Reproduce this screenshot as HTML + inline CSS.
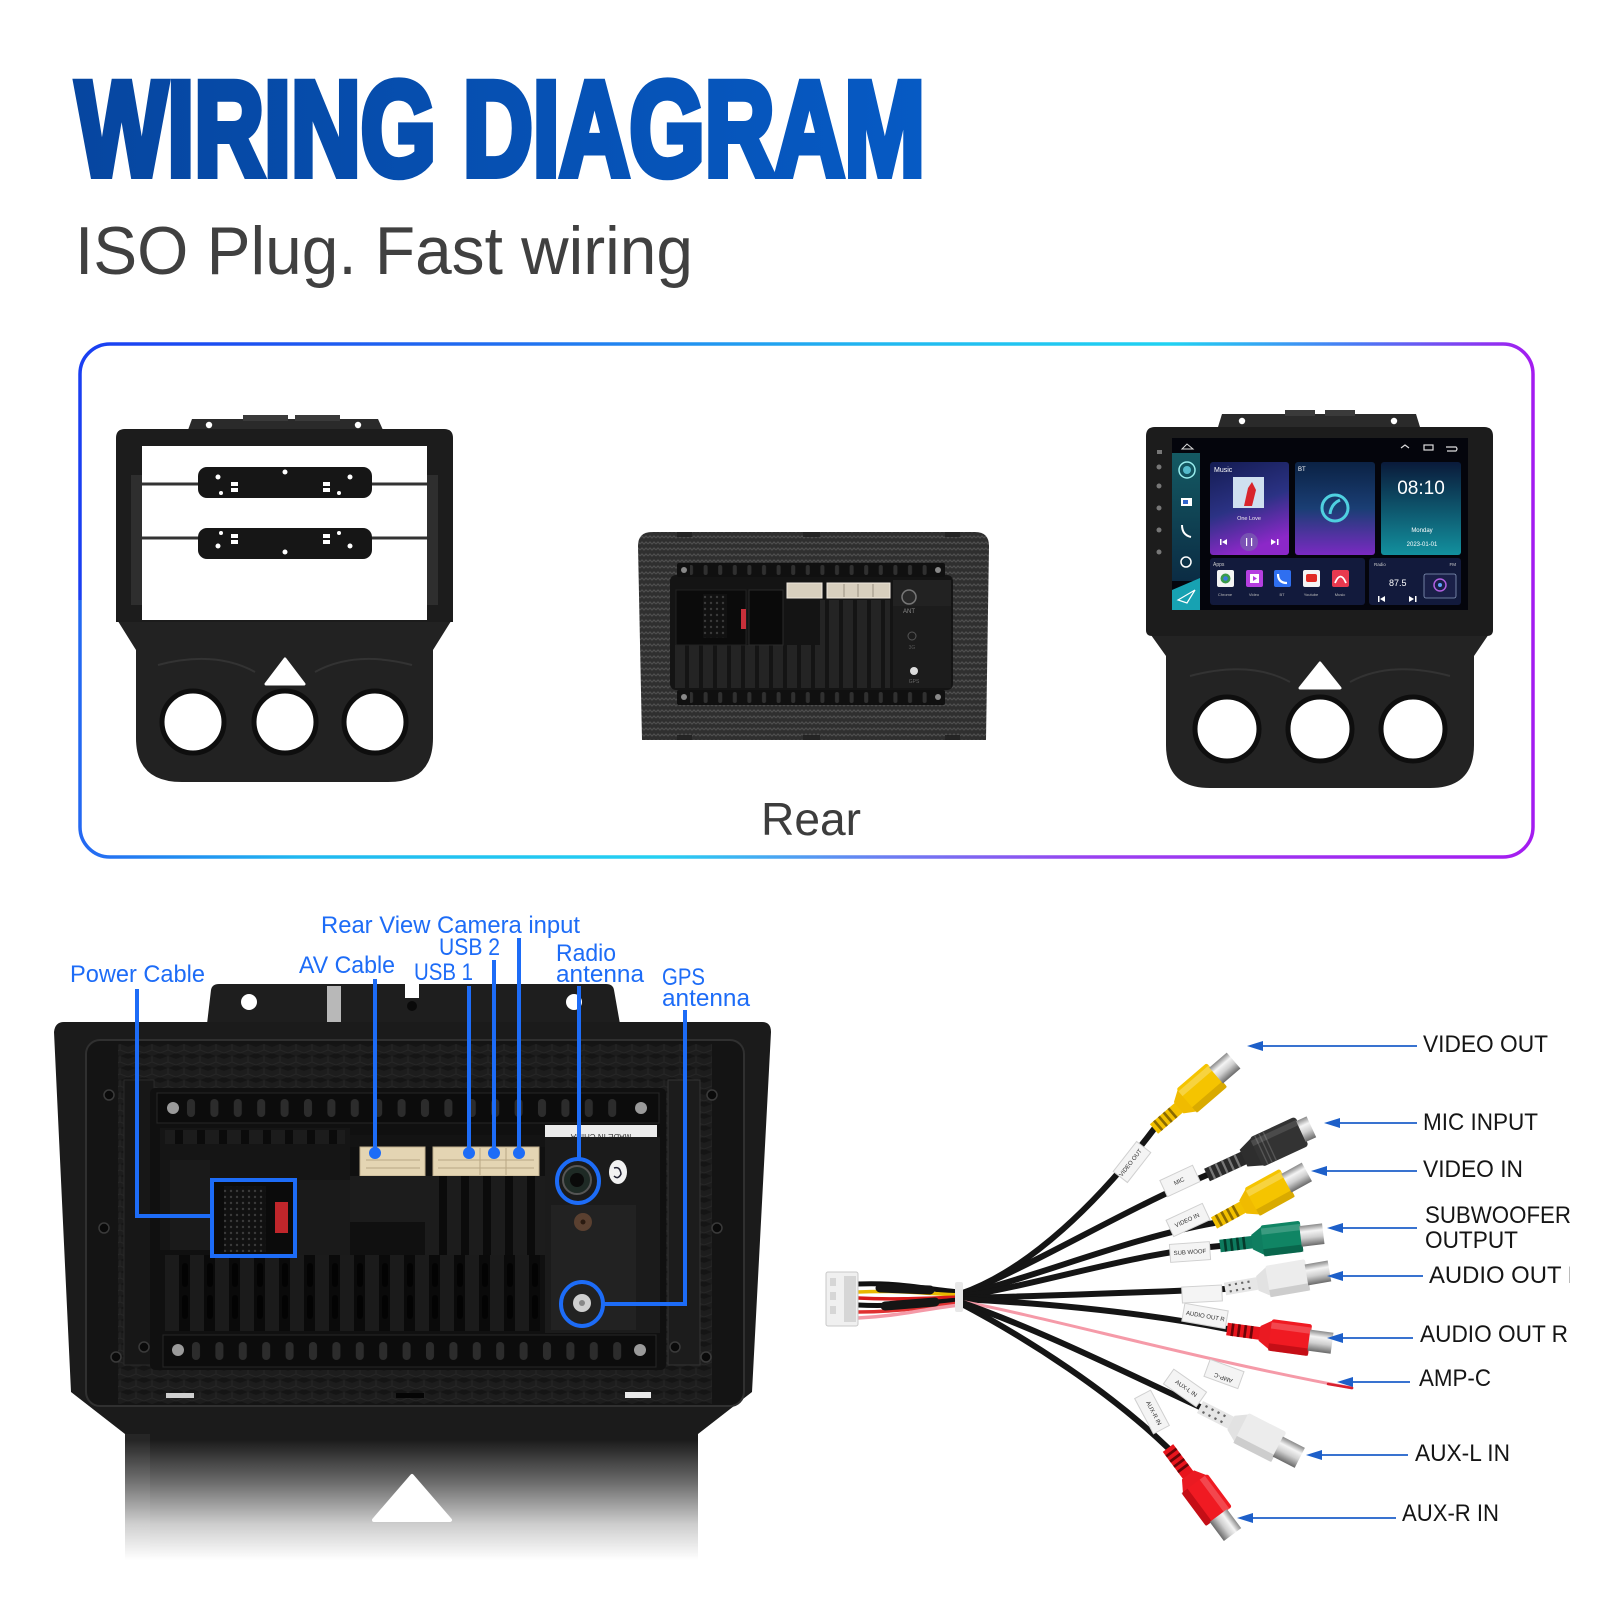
<!DOCTYPE html>
<html><head><meta charset="utf-8"><title>Wiring Diagram</title>
<style>
html,body{margin:0;padding:0;background:#fff;width:1600px;height:1600px;overflow:hidden}
svg{display:block}
</style></head><body>
<svg width="1600" height="1600" viewBox="0 0 1600 1600" xmlns="http://www.w3.org/2000/svg" font-family="'Liberation Sans', sans-serif">
<defs>
 <linearGradient id="titleG" x1="72" y1="0" x2="930" y2="0" gradientUnits="userSpaceOnUse">
  <stop offset="0" stop-color="#0646a0"/><stop offset="1" stop-color="#065ac4"/>
 </linearGradient>
 <linearGradient id="topG" x1="80" y1="0" x2="1533" y2="0" gradientUnits="userSpaceOnUse">
  <stop offset="0" stop-color="#1a3ff2"/><stop offset="0.3" stop-color="#2170f0"/><stop offset="0.55" stop-color="#22b8f0"/><stop offset="0.75" stop-color="#20d2f2"/><stop offset="0.88" stop-color="#4a78f4"/><stop offset="1" stop-color="#a41cf0"/>
 </linearGradient>
 <linearGradient id="botG" x1="80" y1="0" x2="1533" y2="0" gradientUnits="userSpaceOnUse">
  <stop offset="0" stop-color="#2468f2"/><stop offset="0.15" stop-color="#20b8f0"/><stop offset="0.4" stop-color="#24d0f2"/><stop offset="0.55" stop-color="#6a80f2"/><stop offset="0.7" stop-color="#9a40f0"/><stop offset="1" stop-color="#a41cf0"/>
 </linearGradient>
 <pattern id="cf" x="0" y="0" width="8" height="6" patternUnits="userSpaceOnUse">
  <rect width="8" height="6" fill="#2f2f2f"/>
  <path d="M0 4 L2 2 L4 4 L6 2 L8 4" stroke="#4e4e4e" stroke-width="1.2" fill="none"/>
 </pattern>
 <pattern id="cf2" x="0" y="0" width="16" height="12" patternUnits="userSpaceOnUse">
  <rect width="16" height="12" fill="#151515"/>
  <path d="M0 3 L8 0 L16 3 L16 9 L8 12 L0 9 Z" fill="#1d1d1d"/>
  <path d="M8 0 L8 6 L16 9 M8 6 L0 9" stroke="#262626" stroke-width="1" fill="none"/>
 </pattern>
 <pattern id="slotsS" x="684" y="563" width="14.6" height="14" patternUnits="userSpaceOnUse">
  <rect x="5" y="2" width="4" height="10" rx="2" fill="#303030"/>
 </pattern>
 <pattern id="slotsS2" x="684" y="690" width="14.6" height="15" patternUnits="userSpaceOnUse">
  <rect x="5" y="2" width="4" height="11" rx="2" fill="#303030"/>
 </pattern>
 <pattern id="finS" x="675" y="0" width="14" height="10" patternUnits="userSpaceOnUse">
  <rect width="10" height="10" fill="#242424"/>
 </pattern>
 <pattern id="slotsB" x="180" y="1093" width="23.4" height="30" patternUnits="userSpaceOnUse">
  <rect x="7" y="6" width="8" height="18" rx="4" fill="#2c2c2c"/>
 </pattern>
 <pattern id="slotsB2" x="185" y="1335" width="23.4" height="32" patternUnits="userSpaceOnUse">
  <rect x="7" y="7" width="8" height="18" rx="4" fill="#2c2c2c"/>
 </pattern>
 <pattern id="ventM" x="165" y="1255" width="25" height="76" patternUnits="userSpaceOnUse">
  <rect x="0" y="0" width="25" height="76" fill="#0a0a0a"/>
  <rect x="0" y="0" width="14" height="76" fill="#1b1b1b"/>
  <rect x="17" y="8" width="6" height="24" rx="3" fill="#030303"/>
  <rect x="17" y="40" width="6" height="24" rx="3" fill="#030303"/>
 </pattern>
 <pattern id="finB" x="425" y="0" width="22" height="10" patternUnits="userSpaceOnUse">
  <rect width="22" height="10" fill="#0b0b0b"/><rect width="14" height="10" fill="#1c1c1c"/>
 </pattern>
 <pattern id="pins" x="0" y="0" width="6" height="6" patternUnits="userSpaceOnUse">
  <rect width="6" height="6" fill="#111"/><circle cx="3" cy="3" r="1.2" fill="#3a3a3a"/>
 </pattern>
 <linearGradient id="fadeG" x1="0" y1="1440" x2="0" y2="1560" gradientUnits="userSpaceOnUse">
  <stop offset="0" stop-color="#fff" stop-opacity="0"/><stop offset="0.35" stop-color="#fff" stop-opacity="0.35"/><stop offset="0.7" stop-color="#fff" stop-opacity="0.78"/><stop offset="1" stop-color="#fff" stop-opacity="1"/>
 </linearGradient>
 <linearGradient id="sideG" x1="0" y1="0" x2="0" y2="1">
  <stop offset="0" stop-color="#145a63"/><stop offset="1" stop-color="#0b2c44"/>
 </linearGradient>
 <linearGradient id="musicG" x1="0" y1="0" x2="0.3" y2="1">
  <stop offset="0" stop-color="#141c52"/><stop offset="0.55" stop-color="#2b3284"/><stop offset="1" stop-color="#8c28c8"/>
 </linearGradient>
 <linearGradient id="btG" x1="0" y1="0" x2="0" y2="1">
  <stop offset="0" stop-color="#0b2244"/><stop offset="0.5" stop-color="#1a3e74"/><stop offset="1" stop-color="#7a2ac2"/>
 </linearGradient>
 <linearGradient id="clkG" x1="0" y1="0" x2="0" y2="1">
  <stop offset="0" stop-color="#0a1a3a"/><stop offset="1" stop-color="#12909e"/>
 </linearGradient>
 <linearGradient id="metal" x1="0" y1="0" x2="0" y2="1">
  <stop offset="0" stop-color="#8a8a8a"/><stop offset="0.3" stop-color="#f4f4f4"/><stop offset="0.6" stop-color="#cfcfcf"/><stop offset="1" stop-color="#6a6a6a"/>
 </linearGradient>
 <clipPath id="clipR"><rect x="0" y="0" width="1570" height="1600"/></clipPath>

 <g id="plugY">
  <rect x="0" y="-6" width="32" height="12" fill="#f2c000"/>
  <g fill="#8a6a00"><rect x="4" y="-6" width="2.5" height="12"/><rect x="10" y="-6" width="2.5" height="12"/><rect x="16" y="-6" width="2.5" height="12"/><rect x="22" y="-6" width="2.5" height="12"/></g>
  <path d="M31 -7 L42 -14 L42 14 L31 7 Z" fill="#f0bb00"/>
  <rect x="41" y="-15" width="38" height="30" rx="2" fill="#f5c400"/>
  <rect x="41" y="-12" width="38" height="6" fill="#fff" opacity="0.25"/>
  <rect x="41" y="8" width="38" height="7" fill="#b88c00" opacity="0.45"/>
  <rect x="78" y="-10" width="22" height="20" fill="url(#metal)"/>
 </g>
 <g id="plugG">
  <rect x="0" y="-6" width="32" height="12" fill="#0d7a5e"/>
  <g fill="#053a2b"><rect x="4" y="-6" width="2.5" height="12"/><rect x="10" y="-6" width="2.5" height="12"/><rect x="16" y="-6" width="2.5" height="12"/><rect x="22" y="-6" width="2.5" height="12"/></g>
  <path d="M31 -7 L42 -14 L42 14 L31 7 Z" fill="#0f7e60"/>
  <rect x="41" y="-15" width="38" height="30" rx="2" fill="#108564"/>
  <rect x="41" y="-12" width="38" height="6" fill="#fff" opacity="0.18"/>
  <rect x="41" y="8" width="38" height="7" fill="#03402e" opacity="0.45"/>
  <rect x="78" y="-10" width="22" height="20" fill="url(#metal)"/>
 </g>
 <g id="plugW">
  <rect x="0" y="-6" width="32" height="12" fill="#e6e6e6"/>
  <g fill="#666"><rect x="4" y="-4" width="2" height="2"/><rect x="10" y="-4" width="2" height="2"/><rect x="16" y="-4" width="2" height="2"/><rect x="22" y="-4" width="2" height="2"/><rect x="4" y="2" width="2" height="2"/><rect x="10" y="2" width="2" height="2"/><rect x="16" y="2" width="2" height="2"/><rect x="22" y="2" width="2" height="2"/></g>
  <path d="M31 -7 L42 -14 L42 14 L31 7 Z" fill="#e2e2e2"/>
  <rect x="41" y="-15" width="38" height="30" rx="2" fill="#ececec"/>
  <rect x="41" y="8" width="38" height="7" fill="#a8a8a8" opacity="0.45"/>
  <rect x="78" y="-10" width="22" height="20" fill="url(#metal)"/>
 </g>
 <g id="plugR">
  <rect x="0" y="-6" width="32" height="12" fill="#e8141c"/>
  <g fill="#6a0508"><rect x="4" y="-6" width="2.5" height="12"/><rect x="10" y="-6" width="2.5" height="12"/><rect x="16" y="-6" width="2.5" height="12"/><rect x="22" y="-6" width="2.5" height="12"/></g>
  <path d="M31 -7 L42 -14 L42 14 L31 7 Z" fill="#ea1a22"/>
  <rect x="41" y="-15" width="38" height="30" rx="2" fill="#f01a22"/>
  <rect x="41" y="-12" width="38" height="6" fill="#fff" opacity="0.2"/>
  <rect x="41" y="8" width="38" height="7" fill="#900008" opacity="0.45"/>
  <rect x="78" y="-10" width="22" height="20" fill="url(#metal)"/>
 </g>
 <g id="plugK">
  <rect x="0" y="-6" width="36" height="12" fill="#2a2a2a"/>
  <g fill="#777"><rect x="4" y="-6" width="2" height="12"/><rect x="10" y="-6" width="2" height="12"/><rect x="16" y="-6" width="2" height="12"/><rect x="22" y="-6" width="2" height="12"/><rect x="28" y="-6" width="2" height="12"/></g>
  <path d="M35 -8 L48 -13 L48 13 L35 8 Z" fill="#2e2e2e"/>
  <rect x="47" y="-14" width="44" height="28" rx="3" fill="#333"/>
  <g stroke="#555" stroke-width="1.2"><line x1="52" y1="-14" x2="52" y2="14"/><line x1="56" y1="-14" x2="56" y2="14"/><line x1="60" y1="-14" x2="60" y2="14"/></g>
  <rect x="47" y="-11" width="44" height="5" fill="#fff" opacity="0.12"/>
  <rect x="90" y="-10" width="10" height="20" fill="url(#metal)"/>
 </g>
</defs>

<rect width="1600" height="1600" fill="#fff"/>

<!-- ===== Title ===== -->
<text x="76" y="175" font-weight="bold" font-size="134" textLength="849" lengthAdjust="spacingAndGlyphs" fill="url(#titleG)" stroke="url(#titleG)" stroke-width="8">WIRING DIAGRAM</text>
<text x="75" y="274" font-size="68" textLength="618" lengthAdjust="spacingAndGlyphs" fill="#404040">ISO Plug. Fast wiring</text>

<!-- ===== Gradient box ===== -->
<path d="M80 600 L80 374 A30 30 0 0 1 110 344 L1503 344 A30 30 0 0 1 1533 374 L1533 600" fill="none" stroke="url(#topG)" stroke-width="3.5"/>
<path d="M80 600 L80 827 A30 30 0 0 0 110 857 L1503 857 A30 30 0 0 0 1533 827 L1533 600" fill="none" stroke="url(#botG)" stroke-width="3.5"/>
<text x="761" y="835" font-size="46" textLength="100" lengthAdjust="spacingAndGlyphs" fill="#3d3d3d">Rear</text>

<!-- ===== Left bezel ===== -->
<g>
 <path d="M188 430 L192 419 L378 419 L383 430 Z" fill="#2a2a2a"/>
 <rect x="243" y="415" width="45" height="6" fill="#3a3a3a"/><rect x="295" y="415" width="45" height="6" fill="#3a3a3a"/>
 <circle cx="209" cy="425" r="3.2" fill="#fff"/><circle cx="358" cy="425" r="3.2" fill="#fff"/>
 <path d="M116 618 L136 650 L136 738 Q136 782 182 782 L388 782 Q433 782 433 738 L433 650 L453 618 Z" fill="#222"/>
 <path d="M158 665 Q215 650 255 672 M315 672 Q355 650 412 665" stroke="#333" stroke-width="2" fill="none"/>
 <path d="M116 438 Q116 429 125 429 L444 429 Q453 429 453 438 L453 622 L116 622 Z" fill="#1c1c1c"/>
 <rect x="142" y="446" width="285" height="174" fill="#fff"/>
 <rect x="131" y="475" width="11" height="130" fill="#2e2e2e"/><rect x="427" y="475" width="11" height="130" fill="#2e2e2e"/>
 <line x1="142" y1="484" x2="427" y2="484" stroke="#333" stroke-width="3"/>
 <line x1="142" y1="538" x2="427" y2="538" stroke="#333" stroke-width="3"/>
 <rect x="198" y="467" width="174" height="31" rx="9" fill="#161616"/>
 <rect x="198" y="528" width="174" height="31" rx="9" fill="#161616"/>
 <g fill="#fff">
  <circle cx="218" cy="477" r="2.5"/><circle cx="285" cy="472" r="2.5"/><circle cx="350" cy="477" r="2.5"/><circle cx="221" cy="493" r="2"/><circle cx="339" cy="493" r="2"/>
  <rect x="231" y="482" width="7" height="4"/><rect x="231" y="488" width="7" height="4"/><rect x="323" y="482" width="7" height="4"/><rect x="323" y="488" width="7" height="4"/>
  <circle cx="218" cy="546" r="2.5"/><circle cx="285" cy="552" r="2.5"/><circle cx="350" cy="546" r="2.5"/><circle cx="221" cy="533" r="2"/><circle cx="339" cy="533" r="2"/>
  <rect x="231" y="534" width="7" height="4"/><rect x="231" y="540" width="7" height="4"/><rect x="323" y="534" width="7" height="4"/><rect x="323" y="540" width="7" height="4"/>
 </g>
 <path d="M285 659 L304 684 L266 684 Z" fill="#fff" stroke="#fff" stroke-width="3" stroke-linejoin="round"/>
 <g fill="#fff" stroke="#0e0e0e" stroke-width="5">
  <circle cx="193" cy="722" r="31"/><circle cx="285" cy="722" r="31"/><circle cx="375" cy="722" r="31"/>
 </g>
</g>

<!-- ===== Middle rear unit ===== -->
<g>
 <path d="M638 546 Q638 532 652 532 L975 532 Q989 532 989 546 L986 740 L642 740 Z" fill="url(#cf)"/>
 <g fill="#242424">
  <rect x="677" y="532" width="15" height="5"/><rect x="803" y="532" width="17" height="5"/><rect x="945" y="532" width="15" height="5"/>
  <rect x="677" y="735" width="15" height="5"/><rect x="803" y="735" width="17" height="5"/><rect x="945" y="735" width="15" height="5"/>
 </g>
 <rect x="670" y="575" width="283" height="115" rx="6" fill="#141414"/>
 <rect x="677" y="563" width="268" height="14" rx="2" fill="#101010"/>
 <rect x="690" y="563" width="240" height="14" fill="url(#slotsS)"/>
 <circle cx="684" cy="570" r="3" fill="#888"/><circle cx="938" cy="570" r="3" fill="#888"/>
 <rect x="675" y="645" width="215" height="43" fill="url(#finS)"/>
 <rect x="820" y="600" width="70" height="45" fill="url(#finS)"/>
 <rect x="676" y="590" width="70" height="55" fill="#0b0b0b" stroke="#222"/>
 <rect x="703" y="594" width="24" height="44" fill="url(#pins)"/>
 <rect x="741" y="609" width="5" height="20" fill="#c8303a"/>
 <rect x="749" y="590" width="34" height="55" fill="#0a0a0a" stroke="#2a2a2a"/>
 <rect x="787" y="583" width="35" height="15" fill="#d8cfbe" stroke="#efe9df"/>
 <rect x="827" y="583" width="63" height="15" fill="#d8cfbe" stroke="#efe9df"/>
 <g stroke="#9a9283" stroke-width="1"><line x1="844" y1="584" x2="844" y2="597"/><line x1="858" y1="584" x2="858" y2="597"/><line x1="873" y1="584" x2="873" y2="597"/></g>
 <rect x="893" y="580" width="58" height="108" fill="#1c1c1c"/>
 <rect x="893" y="580" width="58" height="26" fill="#222"/>
 <circle cx="909" cy="597" r="7" fill="#2a2a2a" stroke="#777" stroke-width="1.5"/>
 <text x="909" y="613" font-size="6" fill="#888" text-anchor="middle">ANT</text>
 <circle cx="912" cy="636" r="4" fill="none" stroke="#555"/>
 <text x="912" y="649" font-size="5" fill="#555" text-anchor="middle">3G</text>
 <circle cx="914" cy="671" r="4" fill="#ddd"/>
 <text x="914" y="683" font-size="5" fill="#666" text-anchor="middle">GPS</text>
 <rect x="677" y="690" width="268" height="15" rx="2" fill="#101010"/>
 <rect x="690" y="690" width="240" height="15" fill="url(#slotsS2)"/>
 <circle cx="684" cy="697" r="3" fill="#888"/><circle cx="938" cy="697" r="3" fill="#888"/>
</g>

<!-- ===== Right unit ===== -->
<g>
 <path d="M1218 427 L1222 414 L1416 414 L1420 427 Z" fill="#2a2a2a"/>
 <rect x="1285" y="410" width="30" height="6" fill="#3a3a3a"/><rect x="1325" y="410" width="30" height="6" fill="#3a3a3a"/>
 <circle cx="1242" cy="421" r="3.2" fill="#fff"/><circle cx="1394" cy="421" r="3.2" fill="#fff"/>
 <path d="M1146 628 L1166 656 L1166 745 Q1166 788 1210 788 L1430 788 Q1474 788 1474 745 L1474 656 L1493 628 Z" fill="#232323"/>
 <path d="M1190 676 Q1250 660 1290 682 M1350 682 Q1390 660 1450 676" stroke="#333" stroke-width="2" fill="none"/>
 <path d="M1146 436 Q1146 427 1155 427 L1484 427 Q1493 427 1493 436 L1493 630 Q1493 636 1487 636 L1152 636 Q1146 636 1146 630 Z" fill="#1c1c1c"/>
 <path d="M1320 663 L1340 688 L1300 688 Z" fill="#fff" stroke="#fff" stroke-width="3" stroke-linejoin="round"/>
 <g fill="#fff" stroke="#0e0e0e" stroke-width="5">
  <circle cx="1227" cy="729" r="32"/><circle cx="1320" cy="729" r="32"/><circle cx="1413" cy="729" r="32"/>
 </g>
 <rect x="1172" y="438" width="296" height="172" fill="#04050c"/>
 <g fill="#777"><rect x="1157" y="450" width="5" height="4"/><circle cx="1159" cy="467" r="2.5"/><circle cx="1159" cy="486" r="2.5"/><circle cx="1159" cy="508" r="2.5"/><circle cx="1159" cy="530" r="2.5"/><circle cx="1159" cy="552" r="2.5"/></g>
 <path d="M1182 449 L1187 444 L1193 449 Z" fill="none" stroke="#ddd" stroke-width="1"/>
 <g stroke="#ddd" stroke-width="1.2" fill="none"><path d="M1401 448 L1405 445 L1409 448"/><rect x="1424" y="445" width="9" height="5"/><path d="M1446 447 L1456 447 Q1458 449 1456 451 L1447 451"/></g>
 <rect x="1172" y="453" width="28" height="128" fill="url(#sideG)"/>
 <path d="M1172 590 L1200 578 L1200 610 L1172 610 Z" fill="#17a2b2"/>
 <path d="M1178 600 L1195 590 L1187 603 Z" fill="none" stroke="#fff" stroke-width="1.2"/>
 <circle cx="1187" cy="470" r="8" fill="none" stroke="#9ee" stroke-width="1.5"/><circle cx="1187" cy="470" r="4" fill="#5bc"/>
 <rect x="1181" y="498" width="11" height="8" fill="#fff"/><rect x="1183" y="500" width="5" height="4" fill="#36c"/>
 <path d="M1182 525 Q1182 535 1191 537" stroke="#fff" stroke-width="2" fill="none"/>
 <circle cx="1186" cy="562" r="5" fill="none" stroke="#fff" stroke-width="1.5"/>
 <rect x="1210" y="462" width="79" height="93" rx="3" fill="url(#musicG)"/>
 <text x="1214" y="472" font-size="7" fill="#fff">Music</text>
 <rect x="1233" y="477" width="31" height="31" fill="#cfe0f0"/>
 <path d="M1244 506 L1248 488 L1252 482 L1256 490 L1252 506 Z" fill="#d8242c"/>
 <text x="1249" y="520" font-size="5.5" fill="#eee" text-anchor="middle">One Love</text>
 <circle cx="1249" cy="542" r="9" fill="#7a64b0" opacity="0.7"/>
 <g fill="#fff"><rect x="1220" y="539" width="1.5" height="6"/><path d="M1227 539 L1222 542 L1227 545 Z"/><path d="M1271 539 L1276 542 L1271 545 Z"/><rect x="1277" y="539" width="1.5" height="6"/><rect x="1246" y="538" width="1.2" height="8"/><rect x="1251" y="538" width="1.2" height="8"/></g>
 <rect x="1295" y="462" width="80" height="93" rx="3" fill="url(#btG)"/>
 <text x="1298" y="471" font-size="6" fill="#fff">BT</text>
 <circle cx="1335" cy="508" r="13" fill="none" stroke="#4fd0e0" stroke-width="3"/>
 <path d="M1330 514 Q1331 504 1340 500" stroke="#4fd0e0" stroke-width="3" fill="none"/>
 <rect x="1381" y="462" width="80" height="93" rx="3" fill="url(#clkG)"/>
 <text x="1421" y="494" font-size="19" fill="#fff" text-anchor="middle">08:10</text>
 <text x="1422" y="532" font-size="6" fill="#fff" text-anchor="middle">Monday</text>
 <text x="1422" y="546" font-size="6" fill="#fff" text-anchor="middle">2023-01-01</text>
 <rect x="1210" y="558" width="155" height="47" rx="3" fill="#121a3c"/>
 <text x="1213" y="566" font-size="5" fill="#ccc">Apps</text>
 <rect x="1217" y="570" width="17" height="17" rx="2" fill="#f4f4f4"/><circle cx="1225.5" cy="578.5" r="5" fill="#3a9a4a"/><circle cx="1225.5" cy="578.5" r="2.3" fill="#3a78e0"/>
 <rect x="1246" y="570" width="17" height="17" rx="2" fill="#b53fe0"/><rect x="1250" y="574" width="9" height="9" fill="#fff"/><path d="M1253 576 L1257 578.5 L1253 581 Z" fill="#b53fe0"/>
 <rect x="1274" y="570" width="17" height="17" rx="2" fill="#2f6ff0"/><path d="M1278 574 Q1278 583 1287 583" stroke="#fff" stroke-width="2.2" fill="none"/>
 <rect x="1303" y="570" width="17" height="17" rx="2" fill="#f4f4f4"/><rect x="1306" y="574" width="11" height="8" rx="2" fill="#e02a24"/>
 <rect x="1332" y="570" width="17" height="17" rx="2" fill="#e8394f"/><path d="M1335 583 Q1340.5 570 1346 583" stroke="#fff" stroke-width="1.8" fill="none"/>
 <g font-size="4" fill="#bbb" text-anchor="middle"><text x="1225" y="596">Chrome</text><text x="1254" y="596">Video</text><text x="1282" y="596">BT</text><text x="1311" y="596">Youtube</text><text x="1340" y="596">Music</text></g>
 <rect x="1369" y="558" width="92" height="47" rx="3" fill="#121a3c"/>
 <text x="1374" y="566" font-size="4.5" fill="#ccc">Radio</text>
 <text x="1456" y="566" font-size="4.5" fill="#ccc" text-anchor="end">FM</text>
 <text x="1389" y="586" font-size="9" fill="#fff">87.5</text>
 <rect x="1424" y="574" width="32" height="24" rx="2" fill="#1a2048" stroke="#8899bb" stroke-width="0.8"/>
 <circle cx="1440" cy="585" r="6" fill="none" stroke="#b060e0" stroke-width="1.5"/><circle cx="1440" cy="585" r="2" fill="#60a0ff"/>
 <g fill="#fff"><rect x="1378" y="596" width="1.5" height="6"/><path d="M1385 596 L1380 599 L1385 602 Z"/><path d="M1409 596 L1414 599 L1409 602 Z"/><rect x="1415" y="596" width="1.5" height="6"/></g>
</g>

<!-- ===== Bottom rear unit ===== -->
<g>
 <path d="M207 1024 L211 990 Q212 984 219 984 L606 984 Q613 984 614 990 L620 1024 Z" fill="#1e1e1e"/>
 <rect x="327" y="986" width="14" height="36" fill="#b8b8b8"/>
 <rect x="405" y="984" width="14" height="14" fill="#fff"/>
 <circle cx="412" cy="1006" r="5" fill="#0a0a0a"/>
 <circle cx="249" cy="1002" r="8" fill="#fff"/><circle cx="574" cy="1002" r="8" fill="#fff"/>
 <path d="M54 1032 Q55 1022 64 1022 L762 1022 Q771 1022 771 1032 L752 1392 L698 1434 L698 1600 L125 1600 L125 1434 L71 1392 Z" fill="#1b1b1b"/>
 <path d="M125 1434 L150 1434 L150 1600 L125 1600 Z" fill="#262626"/>
 <rect x="86" y="1040" width="658" height="366" rx="14" fill="#141414" stroke="#303030" stroke-width="2"/>
 <rect x="118" y="1044" width="594" height="360" fill="url(#cf2)"/>
 <rect x="668" y="1080" width="32" height="285" fill="#1c1c1c" stroke="#333"/>
 <rect x="124" y="1080" width="30" height="285" fill="#171717" stroke="#2a2a2a"/>
 <rect x="150" y="1088" width="516" height="282" rx="5" fill="#101010"/>
 <rect x="157" y="1093" width="502" height="30" fill="#0c0c0c" stroke="#262626"/>
 <rect x="185" y="1093" width="445" height="30" fill="url(#slotsB)"/>
 <circle cx="173" cy="1108" r="6" fill="#9a9a9a"/><circle cx="641" cy="1108" r="6" fill="#9a9a9a"/>
 <rect x="160" y="1128" width="190" height="122" fill="#151515"/>
 <rect x="165" y="1130" width="180" height="14" fill="url(#finB)"/>
 <rect x="170" y="1160" width="40" height="90" fill="#1a1a1a"/>
 <rect x="212" y="1180" width="83" height="76" fill="#0b0b0b"/>
 <rect x="224" y="1186" width="42" height="66" fill="url(#pins)"/>
 <rect x="275" y="1202" width="13" height="31" fill="#c0262b"/>
 <rect x="295" y="1180" width="55" height="76" fill="#1a1a1a"/>
 <rect x="350" y="1135" width="195" height="12" fill="#131313"/>
 <rect x="360" y="1147" width="65" height="29" fill="#e4d5b3" stroke="#bfae8c"/>
 <rect x="433" y="1147" width="106" height="29" fill="#e4d5b3" stroke="#bfae8c"/>
 <g stroke="#b9a885" stroke-width="1"><line x1="366" y1="1160" x2="420" y2="1160"/><line x1="366" y1="1168" x2="420" y2="1168"/><line x1="438" y1="1160" x2="534" y2="1160"/><line x1="438" y1="1168" x2="534" y2="1168"/><line x1="480" y1="1148" x2="480" y2="1175"/><line x1="506" y1="1148" x2="506" y2="1175"/></g>
 <rect x="350" y="1176" width="75" height="46" fill="#1c1c1c"/>
 <rect x="425" y="1176" width="120" height="79" fill="url(#finB)"/>
 <rect x="165" y="1255" width="375" height="76" fill="url(#ventM)"/>
 <rect x="545" y="1125" width="112" height="12" fill="#ececec"/>
 <text x="601" y="1128" font-size="8" fill="#333" text-anchor="middle" transform="rotate(180 601 1131)">MADE IN CHINA</text>
 <rect x="545" y="1137" width="115" height="196" fill="#1b1b1b"/>
 <rect x="551" y="1205" width="85" height="125" fill="#222"/>
 <circle cx="577" cy="1180" r="14" fill="#1e2a25" stroke="#555" stroke-width="2"/>
 <circle cx="577" cy="1180" r="7" fill="#0a0a0a"/>
 <ellipse cx="618" cy="1172" rx="9" ry="12" fill="#f2f2f2"/>
 <path d="M614 1168 Q620 1166 621 1174 Q618 1180 614 1176" stroke="#223" stroke-width="1.5" fill="none"/>
 <circle cx="583" cy="1222" r="9" fill="#5a4030"/><circle cx="583" cy="1222" r="2.5" fill="#2a1a10"/>
 <circle cx="582" cy="1303" r="9" fill="#cfcfcf"/><circle cx="582" cy="1303" r="3" fill="#888"/>
 <rect x="163" y="1335" width="493" height="32" fill="#0c0c0c" stroke="#262626"/>
 <rect x="190" y="1335" width="435" height="32" fill="url(#slotsB2)"/>
 <circle cx="178" cy="1350" r="6" fill="#9a9a9a"/><circle cx="640" cy="1350" r="6" fill="#9a9a9a"/>
 <rect x="166" y="1393" width="28" height="5" fill="#cfcfcf"/>
 <rect x="396" y="1393" width="28" height="5" fill="#050505"/>
 <rect x="625" y="1392" width="26" height="6" fill="#e8e8e8"/>
 <g fill="#0a0a0a" stroke="#3a3a3a" stroke-width="1.5">
  <circle cx="109" cy="1095" r="5"/><circle cx="104" cy="1228" r="5"/><circle cx="712" cy="1095" r="5"/><circle cx="717" cy="1228" r="5"/>
  <circle cx="116" cy="1357" r="5"/><circle cx="144" cy="1347" r="5"/><circle cx="675" cy="1347" r="5"/><circle cx="706" cy="1357" r="5"/>
 </g>
 <path d="M412 1476 L450 1520 L374 1520 Z" fill="#fff" stroke="#fff" stroke-width="4" stroke-linejoin="round"/>
 <rect x="40" y="1440" width="760" height="160" fill="url(#fadeG)"/>
</g>

<!-- ===== Blue callouts ===== -->
<g stroke="#1d6cf7" stroke-width="4" fill="none">
 <polyline points="137,989 137,1216 212,1216"/>
 <rect x="212" y="1180" width="83" height="76"/>
 <line x1="375" y1="979" x2="375" y2="1152"/>
 <line x1="469" y1="986" x2="469" y2="1152"/>
 <line x1="494" y1="960" x2="494" y2="1152"/>
 <line x1="519" y1="938" x2="519" y2="1152"/>
 <line x1="579" y1="986" x2="579" y2="1158"/>
 <ellipse cx="578" cy="1181" rx="21" ry="22"/>
 <polyline points="685,1010 685,1304 603,1304"/>
 <ellipse cx="582" cy="1304" rx="21" ry="22"/>
</g>
<g fill="#1d6cf7"><circle cx="375" cy="1153" r="6"/><circle cx="469" cy="1153" r="6"/><circle cx="494" cy="1153" r="6"/><circle cx="519" cy="1153" r="6"/></g>
<g fill="#1d6cf7" font-size="24">
 <text x="70" y="982" textLength="135" lengthAdjust="spacingAndGlyphs">Power Cable</text>
 <text x="299" y="973" textLength="96" lengthAdjust="spacingAndGlyphs">AV Cable</text>
 <text x="414" y="980" textLength="59" lengthAdjust="spacingAndGlyphs">USB 1</text>
 <text x="439" y="955" textLength="61" lengthAdjust="spacingAndGlyphs">USB 2</text>
 <text x="321" y="933" textLength="259" lengthAdjust="spacingAndGlyphs">Rear View Camera input</text>
 <text x="556" y="961" textLength="60" lengthAdjust="spacingAndGlyphs">Radio</text>
 <text x="556" y="982" textLength="88" lengthAdjust="spacingAndGlyphs">antenna</text>
 <text x="662" y="985" textLength="43" lengthAdjust="spacingAndGlyphs">GPS</text>
 <text x="662" y="1006" textLength="88" lengthAdjust="spacingAndGlyphs">antenna</text>
</g>

<!-- ===== Cable harness ===== -->
<g fill="none" stroke-linecap="round">
 <path d="M858 1284 C 900 1282, 930 1290, 960 1292" stroke="#111" stroke-width="5"/>
 <path d="M858 1292 C 900 1290, 930 1294, 960 1295" stroke="#e8b800" stroke-width="3.5"/>
 <path d="M858 1298 C 900 1300, 930 1298, 960 1297" stroke="#d81a1a" stroke-width="3.5"/>
 <path d="M858 1305 C 900 1307, 930 1302, 960 1300" stroke="#111" stroke-width="5"/>
 <path d="M858 1312 C 900 1312, 930 1306, 960 1303" stroke="#e03030" stroke-width="3.5"/>
 <path d="M858 1318 C 900 1316, 930 1308, 960 1305" stroke="#f49aa8" stroke-width="3.5"/>
 <path d="M880 1288 L 930 1290" stroke="#151515" stroke-width="9"/>
 <path d="M885 1306 L 935 1302" stroke="#151515" stroke-width="9"/>
 <path d="M960 1294 C 1030 1270, 1100 1200, 1154 1129" stroke="#151515" stroke-width="6"/>
 <path d="M960 1295 C 1040 1262, 1120 1212, 1207 1175" stroke="#151515" stroke-width="6"/>
 <path d="M960 1296 C 1050 1272, 1130 1238, 1214 1223" stroke="#151515" stroke-width="6"/>
 <path d="M960 1297 C 1050 1282, 1130 1254, 1220 1246" stroke="#151515" stroke-width="6"/>
 <path d="M960 1298 C 1050 1296, 1150 1292, 1225 1289" stroke="#151515" stroke-width="6"/>
 <path d="M960 1299 C 1060 1304, 1150 1314, 1227 1329" stroke="#151515" stroke-width="6"/>
 <path d="M960 1301 C 1050 1318, 1200 1360, 1352 1388" stroke="#f59aa8" stroke-width="3"/>
 <path d="M1328 1384 L1352 1388" stroke="#d8202e" stroke-width="2.5"/>
 <path d="M960 1302 C 1040 1330, 1120 1370, 1200 1407" stroke="#151515" stroke-width="6"/>
 <path d="M960 1303 C 1030 1340, 1110 1392, 1168 1448" stroke="#151515" stroke-width="6"/>
</g>
<rect x="826" y="1272" width="32" height="54" rx="2" fill="#f0f0f0" stroke="#c8c8c8"/>
<g fill="#d6d6d6"><rect x="830" y="1278" width="6" height="8"/><rect x="830" y="1292" width="6" height="8"/><rect x="830" y="1306" width="6" height="8"/><rect x="844" y="1276" width="12" height="46"/></g>
<rect x="955" y="1282" width="8" height="30" rx="2" fill="#e8e8e8"/>

<use href="#plugY" transform="translate(1154 1129) rotate(-40.7) scale(1.05)"/>
<use href="#plugK" transform="translate(1207 1175) rotate(-24.8) scale(1.15)"/>
<use href="#plugY" transform="translate(1214 1223) rotate(-28.8) scale(1.06)"/>
<use href="#plugG" transform="translate(1220 1246) rotate(-6.8) scale(1.04)"/>
<use href="#plugW" transform="translate(1225 1289) rotate(-9.8) scale(1.06)"/>
<use href="#plugR" transform="translate(1227 1329) rotate(7.7) scale(1.06)"/>
<use href="#plugW" transform="translate(1200 1407) rotate(27) scale(1.12)"/>
<use href="#plugR" transform="translate(1168 1448) rotate(53.3) scale(1.08)"/>

<g fill="#f4f4f4" stroke="#d0d0d0" stroke-width="1">
 <rect x="-19" y="-9" width="38" height="18" transform="translate(1132 1162) rotate(-52)"/>
 <rect x="-18" y="-9" width="36" height="18" transform="translate(1180 1181) rotate(-25)"/>
 <rect x="-20" y="-9" width="40" height="18" transform="translate(1188 1220) rotate(-25)"/>
 <rect x="-20" y="-9" width="40" height="18" transform="translate(1190 1252) rotate(-4)"/>
 <rect x="-20" y="-8" width="40" height="16" transform="translate(1202 1294) rotate(-3)"/>
 <rect x="-22" y="-9" width="44" height="18" transform="translate(1205 1316) rotate(10)"/>
 <rect x="-18" y="-9" width="36" height="18" transform="translate(1224 1374) rotate(20)"/>
 <rect x="-20" y="-9" width="40" height="18" transform="translate(1185 1388) rotate(35)"/>
 <rect x="-20" y="-9" width="40" height="18" transform="translate(1152 1412) rotate(62)"/>
</g>
<g font-size="6" fill="#333" text-anchor="middle">
 <text transform="translate(1132 1164) rotate(-52)">VIDEO OUT</text>
 <text transform="translate(1180 1183) rotate(-25)">MIC</text>
 <text transform="translate(1188 1222) rotate(-25)">VIDEO IN</text>
 <text transform="translate(1190 1254) rotate(-4)">SUB WOOF</text>
 <text transform="translate(1205 1318) rotate(10)">AUDIO OUT R</text>
 <text transform="translate(1224 1376) rotate(200)">AMP-C</text>
 <text transform="translate(1185 1390) rotate(35)">AUX-L IN</text>
 <text transform="translate(1152 1414) rotate(62)">AUX-R IN</text>
</g>

<!-- arrows -->
<g stroke="#1d5fc9" stroke-width="1.8">
 <line x1="1258" y1="1046" x2="1417" y2="1046"/>
 <line x1="1335" y1="1123" x2="1417" y2="1123"/>
 <line x1="1322" y1="1171" x2="1417" y2="1171"/>
 <line x1="1338" y1="1228" x2="1417" y2="1228"/>
 <line x1="1338" y1="1276" x2="1423" y2="1276"/>
 <line x1="1338" y1="1338" x2="1413" y2="1338"/>
 <line x1="1348" y1="1382" x2="1410" y2="1382"/>
 <line x1="1317" y1="1455" x2="1408" y2="1455"/>
 <line x1="1248" y1="1518" x2="1396" y2="1518"/>
</g>
<g fill="#1d5fc9">
 <path d="M1247 1046 L1263 1041 L1263 1051 Z"/>
 <path d="M1324 1123 L1340 1118 L1340 1128 Z"/>
 <path d="M1311 1171 L1327 1166 L1327 1176 Z"/>
 <path d="M1327 1228 L1343 1223 L1343 1233 Z"/>
 <path d="M1327 1276 L1343 1271 L1343 1281 Z"/>
 <path d="M1327 1338 L1343 1333 L1343 1343 Z"/>
 <path d="M1337 1382 L1353 1377 L1353 1387 Z"/>
 <path d="M1306 1455 L1322 1450 L1322 1460 Z"/>
 <path d="M1237 1518 L1253 1513 L1253 1523 Z"/>
</g>
<g font-size="24" fill="#151515" clip-path="url(#clipR)">
 <text x="1423" y="1052" textLength="125" lengthAdjust="spacingAndGlyphs">VIDEO OUT</text>
 <text x="1423" y="1130" textLength="115" lengthAdjust="spacingAndGlyphs">MIC INPUT</text>
 <text x="1423" y="1177" textLength="100" lengthAdjust="spacingAndGlyphs">VIDEO IN</text>
 <text x="1425" y="1223" textLength="146" lengthAdjust="spacingAndGlyphs">SUBWOOFER</text>
 <text x="1425" y="1248" textLength="93" lengthAdjust="spacingAndGlyphs">OUTPUT</text>
 <text x="1429" y="1283" textLength="152" lengthAdjust="spacingAndGlyphs">AUDIO OUT L</text>
 <text x="1420" y="1342" textLength="148" lengthAdjust="spacingAndGlyphs">AUDIO OUT R</text>
 <text x="1419" y="1386" textLength="72" lengthAdjust="spacingAndGlyphs">AMP-C</text>
 <text x="1415" y="1461" textLength="95" lengthAdjust="spacingAndGlyphs">AUX-L IN</text>
 <text x="1402" y="1521" textLength="97" lengthAdjust="spacingAndGlyphs">AUX-R IN</text>
</g>
</svg>
</body></html>
